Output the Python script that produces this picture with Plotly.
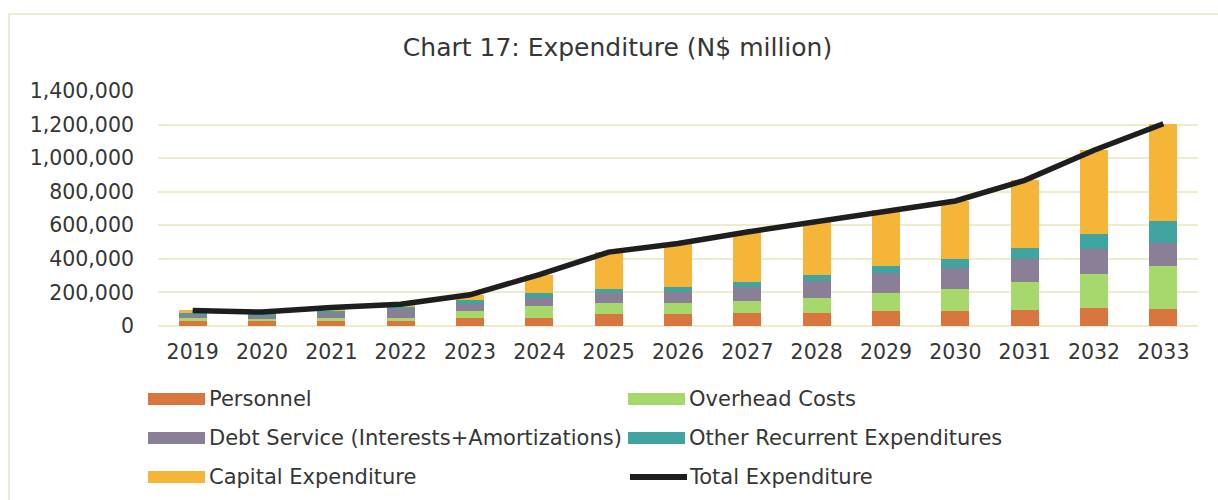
import plotly.graph_objects as go

# Expenditure by category, N$ million
years = ["2019", "2020", "2021", "2022", "2023", "2024", "2025", "2026",
         "2027", "2028", "2029", "2030", "2031", "2032", "2033"]

personnel = [30000, 28000, 30000, 30000, 46000, 50000, 70000, 70000,
             78000, 78000, 90000, 90000, 97000, 107000, 99000]
overhead = [20000, 15000, 20000, 20000, 44000, 68000, 68000, 68000,
            70000, 90000, 104000, 133000, 165000, 205000, 258000]
debt_service = [18000, 20000, 32000, 55000, 40000, 46000, 56000, 66000,
                86000, 100000, 120000, 125000, 139000, 145000, 139000]
other_recurrent = [10000, 8000, 10000, 10000, 24000, 30000, 26000, 30000,
                   28000, 36000, 44000, 54000, 66000, 93000, 127000]
capital = [15000, 12000, 18000, 15000, 32000, 112000, 220000, 258000,
           298000, 318000, 332000, 343000, 401000, 497000, 582000]

total = [p + o + d + r + c for p, o, d, r, c in
         zip(personnel, overhead, debt_service, other_recurrent, capital)]

y_ticks = [0, 200000, 400000, 600000, 800000, 1000000, 1200000, 1400000]

series = [
    ("Personnel", personnel, "#D9753F"),
    ("Overhead Costs", overhead, "#A7D86C"),
    ("Debt Service (Interests+Amortizations)", debt_service, "#8A7F96"),
    ("Other Recurrent Expenditures", other_recurrent, "#40A5A0"),
    ("Capital Expenditure", capital, "#F5B539"),
]
line_name = "Total Expenditure"
line_color = "#1E1E1E"

FONT = "DejaVu Sans"
TEXT = "#363636"

W, H = 1218, 500
L, R, T, B = 158, 20, 91, 174
plot_w, plot_h = W - L - R, H - T - B

fig = go.Figure()
for name, vals, color in series:
    fig.add_trace(go.Bar(x=years, y=vals, name=name, marker_color=color,
                         marker_line_width=0, showlegend=False))
fig.add_trace(go.Scatter(x=years, y=total, name=line_name, mode="lines",
                         line=dict(color=line_color, width=5.5),
                         showlegend=False))


def px_to_paper(px, py):
    return (px - L) / plot_w, (H - B - py) / plot_h


# Two-column legend laid out beneath the plot
entries = [(n, c, "bar") for n, _, c in series] + [(line_name, line_color, "line")]
col_x = [148, 628]
row_y = [399, 438, 477]
shapes = []
annotations = []
for i, (name, color, kind) in enumerate(entries):
    cx = col_x[i % 2]
    cy = row_y[i // 2]
    if kind == "bar":
        x0, y0 = px_to_paper(cx, cy - 6)
        x1, y1 = px_to_paper(cx + 57, cy + 6)
        shapes.append(dict(type="rect", xref="paper", yref="paper",
                           x0=x0, x1=x1, y0=y1, y1=y0,
                           fillcolor=color, line_width=0))
    else:
        x0, y0 = px_to_paper(cx + 2, cy)
        x1, _ = px_to_paper(cx + 59, cy)
        shapes.append(dict(type="line", xref="paper", yref="paper",
                           x0=x0, x1=x1, y0=y0, y1=y0,
                           line=dict(color=color, width=6)))
    tx, ty = px_to_paper(cx + 59, cy)
    annotations.append(dict(text=name, xref="paper", yref="paper", x=tx, y=ty,
                            xanchor="left", yanchor="middle", showarrow=False,
                            font=dict(family=FONT, size=21, color=TEXT)))

# faint chart frame
fx0, fy0 = px_to_paper(9, 14)
fx1, fy1 = px_to_paper(1230, 520)
shapes.append(dict(type="rect", xref="paper", yref="paper", x0=fx0, x1=fx1,
                   y0=fy1, y1=fy0, line=dict(color="#EEEBD2", width=2),
                   layer="below"))

fig.update_layout(
    width=W, height=H,
    margin=dict(l=L, r=R, t=T, b=B),
    barmode="stack",
    bargap=0.6,
    paper_bgcolor="white",
    plot_bgcolor="white",
    title=dict(text="Chart 17: Expenditure (N$ million)", x=0.507, xanchor="center",
               y=1 - 47 / H, yanchor="middle", yref="container",
               font=dict(family=FONT, size=25, color=TEXT)),
    font=dict(family=FONT, color=TEXT),
    xaxis=dict(showline=False, showgrid=False, zeroline=False,
               tickfont=dict(size=20.5, color=TEXT), ticks="",
               ticklabelstandoff=11),
    yaxis=dict(range=[0, 1400000], tickvals=y_ticks, tickformat=",",
               showgrid=True, gridcolor="#EFEBCB", gridwidth=1.5,
               zeroline=True, zerolinecolor="#EFEBCB", zerolinewidth=1.5,
               showline=False, ticks="", tickfont=dict(size=20.5, color=TEXT),
               ticklabelstandoff=23),
    shapes=shapes,
    annotations=annotations,
)

fig.write_html("out.html")
